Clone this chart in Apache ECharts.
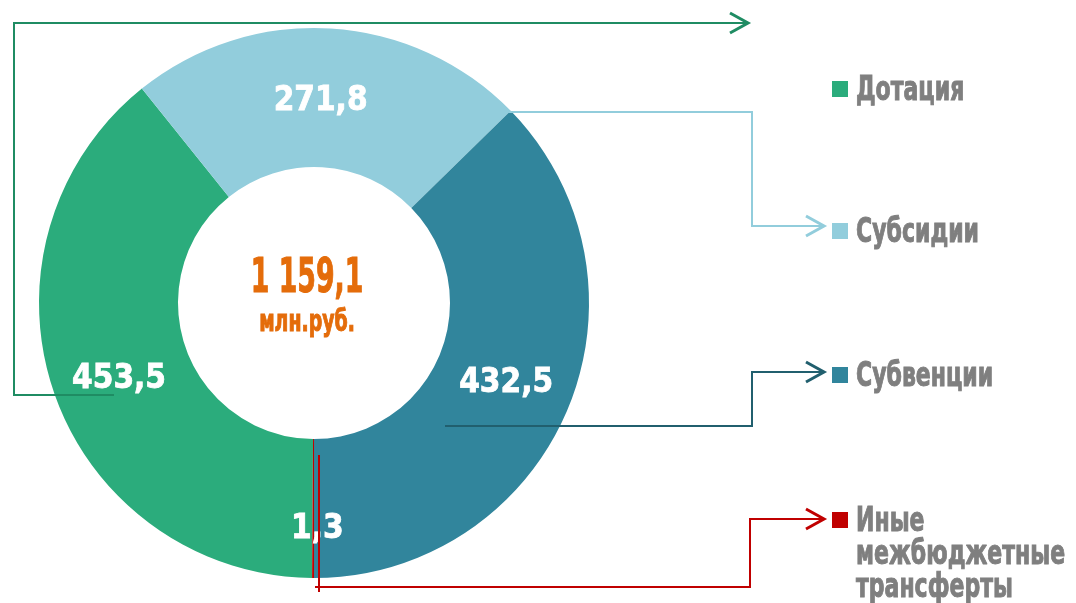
<!DOCTYPE html>
<html>
<head>
<meta charset="utf-8">
<script src="https://cdn.jsdelivr.net/npm/echarts@6/dist/echarts.min.js"></script>
<style>
  html, body { margin: 0; padding: 0; background: #fff; }
  #chart { width: 1076px; height: 603px; }
</style>
</head>
<body>
<div id="chart"></div>
<script>
// данные
const names = ['Дотация', 'Субсидии', 'Субвенции', 'Иные межбюджетные трансферты']
const legendLabels = ['Дотация', 'Субсидии', 'Субвенции', 'Иные\nмежбюджетные\nтрансферты']
const values = [453.5, 271.8, 432.5, 1.3]
const colors = ['#2bac7c', '#92cddc', '#31859c', '#c00000']
const totalText = '1 159,1'
const unitText = 'млн.руб.'

const FONT = '"DejaVu Sans Condensed", "DejaVu Sans", sans-serif'
const cx = 314, cy = 303

const fmt = (v) => String(v).replace('.', ',')

// стрелка-шеврон на конце линии
const arrow = (x, y, color) => ({
  type: 'polyline', z: 100,
  shape: { points: [[x - 18, y - 10], [x, y], [x - 18, y + 10]] },
  style: { stroke: color, lineWidth: 3, fill: null }
})
const line = (points, color) => ({
  type: 'polyline', z: 100,
  shape: { points },
  style: { stroke: color, lineWidth: 2, fill: null }
})
// узкий жирный текст (сжимаем по горизонтали через scaleX)
const narrow = (x, y, text, size, color, sx, align, lh) => ({
  type: 'text', x, y, z: 100, scaleX: sx,
  style: {
    text, x: 0, y: 0, align: align || 'left', verticalAlign: 'middle',
    fill: color, stroke: color, lineWidth: 1,
    font: 'bold ' + size + 'px ' + FONT, lineHeight: lh
  }
})

const legendCenters = [89, 231, 375, 520]
const legends = names.map((n, i) => ({
  data: [n],
  left: 832,
  top: legendCenters[i] - 8,
  icon: 'rect',
  itemWidth: 16,
  itemHeight: 16,
  selectedMode: false,
  formatter: () => '',
  textStyle: { fontSize: 1 },
  padding: 0
}))

const option = {
  animation: false,
  color: colors,
  legend: legends,
  graphic: [
    // линии-выноски
    line([[114, 395], [14, 395], [14, 23], [748, 23]], '#1f8c63'),
    arrow(748, 23, '#1f8c63'),
    line([[500, 112], [752, 112], [752, 226], [824, 226]], '#92cddc'),
    arrow(824, 226, '#92cddc'),
    line([[445, 426], [752, 426], [752, 372], [824, 372]], '#215f6e'),
    arrow(824, 372, '#215f6e'),
    line([[319, 455], [319, 592]], '#c00000'),
    line([[315, 587], [750, 587], [750, 519], [824, 519]], '#c00000'),
    arrow(824, 519, '#c00000'),
    // подпись в центре
    narrow(307, 280, totalText, 48, '#e46c0a', 0.62, 'center'),
    narrow(307, 323, unitText, 30, '#e46c0a', 0.7, 'center'),
    // подписи легенды
    ...legendLabels.map((t, i) => narrow(856, legendCenters[i] + 2 + (i === 3 ? 33 : 0), t, 34, '#7f7f7f', 0.72, 'left', 33))
  ],
  series: [
    {
      type: 'pie',
      center: [cx, cy],
      radius: [136, 275],
      startAngle: 269.6,
      clockwise: true,
      avoidLabelOverlap: false,
      label: {
        show: true,
        position: 'inside',
        formatter: (p) => fmt(p.value),
        color: '#fff',
        textBorderColor: '#fff',
        textBorderWidth: 0.8,
        fontFamily: FONT,
        fontSize: 33,
        fontWeight: 'bold'
      },
      labelLine: { show: false },
      data: names.map((n, i) => ({
        name: n,
        value: values[i],
        label: [{ offset: [2, 8] }, { offset: [-6, 7] }, undefined, { offset: [4, 18] }][i]
      }))
    }
  ]
}

const chart = echarts.init(document.getElementById('chart'))
chart.setOption(option)
</script>
</body>
</html>
